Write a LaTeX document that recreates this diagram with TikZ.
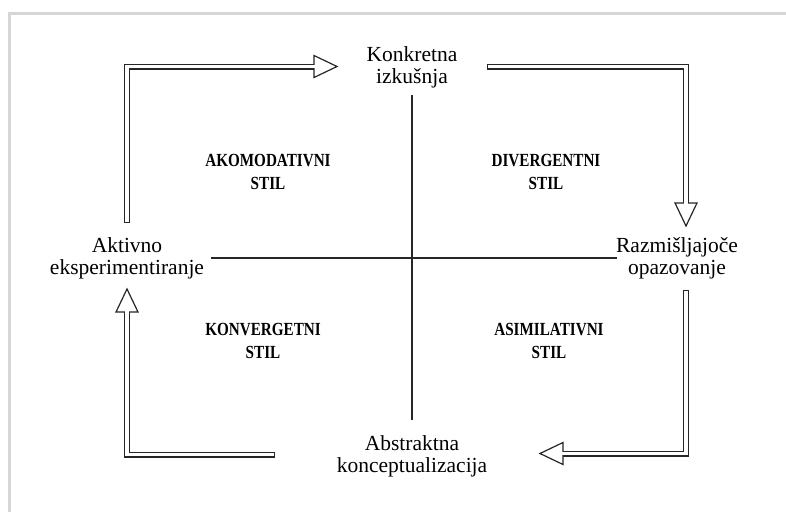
\documentclass[tikz,border=0pt]{standalone}
\usepackage{fontspec}
\setmainfont{Liberation Serif}
\newfontfamily\stilfont{Liberation Serif}[FakeStretch=0.82]
\usetikzlibrary{calc}
\begin{document}
\begin{tikzpicture}[x=1pt,y=-1pt,
  pole/.style={font=\fontsize{21.5}{22}\selectfont, align=center, inner sep=0pt},
  stil/.style={font=\stilfont\fontsize{18.5}{23}\selectfont\bfseries, align=center, inner sep=0pt},
  axis/.style={line width=1.3pt, black!85},
  shaftout/.style={line width=6pt, line join=miter, black!85},
  shaftin/.style={line width=3.6pt, line join=miter, white},
  headstyle/.style={fill=white, draw=black!85, line width=1.2pt, line join=miter}
]
\useasboundingbox (0,0) rectangle (786,511);
% outer frame
\begin{scope}
  \clip (0,0) rectangle (786,511);
  \draw[line width=3pt, draw={rgb,255:red,214;green,214;blue,217}] (9.5,13.5) rectangle (800,530);
\end{scope}

% four poles of the learning cycle
\node[pole] (konk) at (412,67) {Konkretna\\izkušnja};
\node[pole] (razm) at (677,258) {Razmišljajoče\\opazovanje};
\node[pole] (abst) at (412,456) {Abstraktna\\konceptualizacija};
\node[pole] (akt)  at (127,258) {Aktivno\\eksperimentiranje};

% learning styles in the quadrants
\node[stil] (akom) at (268,171.5) {AKOMODATIVNI\\STIL};
\node[stil] (div)  at (546,171.5) {DIVERGENTNI\\STIL};
\node[stil] (konv) at (263,341) {KONVERGETNI\\STIL};
\node[stil] (asim) at (549,341) {ASIMILATIVNI\\STIL};

% axes
\coordinate (vtop) at (412,95);
\coordinate (vbot) at (412,420);
\coordinate (hl) at (211,258);
\coordinate (hr) at (617,258);
\draw[axis] (vtop) -- (vbot);
\draw[axis] (hl) -- (hr);

% hollow double-line arrows
% #1 start, #2 corner, #3 head base, #4 tip, #5 head half-width offset
\newcommand\hollowarrow[5]{%
  \draw[shaftout] (#1) -- (#2) -- (#3);
  \draw[headstyle] ($(#3)+#5$) -- (#4) -- ($(#3)-#5$) -- cycle;
  \draw[shaftin, shorten <=1.3pt, shorten >=-2pt] (#1) -- (#2) -- (#3);
}

% Aktivno -> Konkretna
\coordinate (a1s) at (127,223);
\coordinate (a1c) at (127,66.5);
\coordinate (a1b) at (314,66.5);
\coordinate (a1t) at (337,66.5);
\hollowarrow{a1s}{a1c}{a1b}{a1t}{(0,11)}

% Konkretna -> Razmisljajoce
\coordinate (a2s) at (487,66.5);
\coordinate (a2c) at (686,66.5);
\coordinate (a2b) at (686,203);
\coordinate (a2t) at (686,226);
\hollowarrow{a2s}{a2c}{a2b}{a2t}{(11,0)}

% Razmisljajoce -> Abstraktna
\coordinate (a3s) at (686,290);
\coordinate (a3c) at (686,453.5);
\coordinate (a3b) at (563,453.5);
\coordinate (a3t) at (540,453.5);
\hollowarrow{a3s}{a3c}{a3b}{a3t}{(0,11)}

% Abstraktna -> Aktivno
\coordinate (a4s) at (275,454.5);
\coordinate (a4c) at (127,454.5);
\coordinate (a4b) at (127,312);
\coordinate (a4t) at (127,289);
\hollowarrow{a4s}{a4c}{a4b}{a4t}{(11,0)}
\end{tikzpicture}
\end{document}
